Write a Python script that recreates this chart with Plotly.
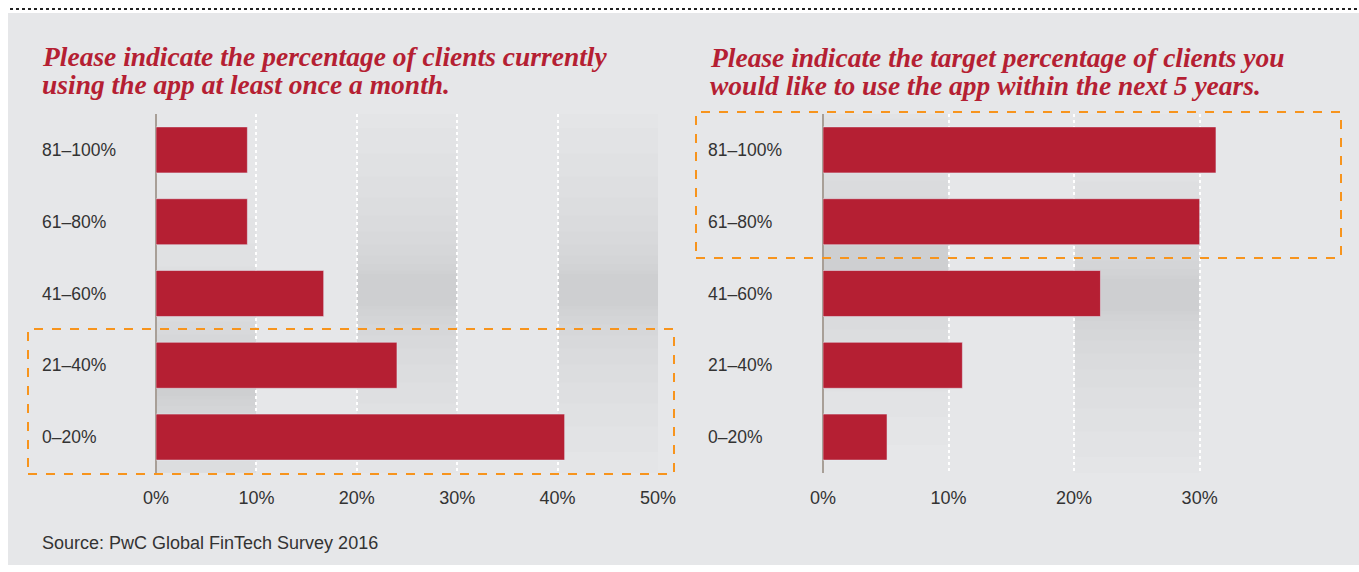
import plotly.graph_objects as go

# Données (en %)
categories = ['0–20%', '21–40%', '41–60%', '61–80%', '81–100%']
current_users = [40.7, 24.0, 16.7, 9.1, 9.1]
target_users = [5.1, 11.1, 22.1, 30.0, 31.3]
left_ticks = [0, 10, 20, 30, 40, 50]
right_ticks = [0, 10, 20, 30]

title_left = ['Please indicate the percentage of clients currently',
              'using the app at least once a month.']
title_right = ['Please indicate the target percentage of clients you',
               'would like to use the app within the next 5 years.']
source_text = 'Source: PwC Global FinTech Survey 2016'

W, H = 1359, 572
RED = '#b51f33'
ORANGE = '#f7941d'
BG = '#e6e7e9'
TXT = '#333333'
SANS = 'Liberation Sans, Arial'


def px(x):
    return x / W


def py(y):
    return 1 - y / H


fig = go.Figure()
fig.add_trace(go.Bar(y=categories, x=current_users, orientation='h', marker_color=RED,
                     xaxis='x', yaxis='y', hoverinfo='skip'))
fig.add_trace(go.Bar(y=categories, x=target_users, orientation='h', marker_color=RED,
                     xaxis='x2', yaxis='y2', hoverinfo='skip'))

ydom = [py(473), py(114)]
common_x = dict(showgrid=True, gridcolor='white', gridwidth=2, griddash='dot',
                zeroline=True, zerolinecolor='#a89f97', zerolinewidth=2,
                ticks='', ticklabelstandoff=12, tickmode='array',
                tickfont=dict(family=SANS, size=18, color=TXT),
                showline=False, fixedrange=True)
common_y = dict(domain=ydom, showticklabels=False, showgrid=False, zeroline=False,
                categoryorder='array', categoryarray=categories, fixedrange=True)

fig.update_layout(
    width=W, height=H,
    margin=dict(l=0, r=0, t=0, b=0, autoexpand=False),
    paper_bgcolor='white', plot_bgcolor='rgba(0,0,0,0)',
    showlegend=False, bargap=0.36,
    xaxis=dict(domain=[px(156), px(658)], range=[0, 50], tickvals=left_ticks,
               ticktext=[f'{v}%' for v in left_ticks], anchor='y', **common_x),
    yaxis=dict(anchor='x', **common_y),
    xaxis2=dict(domain=[px(823), px(1339)], range=[0, 41.1], tickvals=right_ticks,
                ticktext=[f'{v}%' for v in right_ticks], anchor='y2', **common_x),
    yaxis2=dict(anchor='x2', **common_y),
)

shapes = []
# fond gris + ligne pointillée en haut
shapes.append(dict(type='rect', xref='paper', yref='paper', x0=px(8), x1=1, y0=py(565), y1=py(13),
                   fillcolor=BG, line_width=0, layer='below'))
shapes.append(dict(type='line', xref='paper', yref='paper', x0=px(10), x1=1, y0=py(9), y1=py(9),
                   line=dict(color='#222222', width=2, dash='dot')))

# bandes grises diffuses : dégradé vertical par couches empilées, plus dense au centre
bands = [('x', 0, 10, 380), ('x', 20, 30, 290), ('x', 40, 50, 290),
         ('x2', 0, 10, 255), ('x2', 20, 30, 295)]
for xr, a, b, yc in bands:
    for k in range(12):
        half = 15 + 175 * ((12 - k) / 12) ** 2
        top = max(114, yc - half)
        bot = min(473, yc + half)
        shapes.append(dict(type='rect', xref=xr, yref='paper', x0=a, x1=b,
                           y0=py(bot), y1=py(top),
                           fillcolor='rgba(0,0,0,0.0068)', line_width=0, layer='below'))

# cadres orange en pointillés
shapes.append(dict(type='rect', xref='paper', yref='paper', x0=px(28), x1=px(674), y0=py(474), y1=py(329),
                   line=dict(color=ORANGE, width=2, dash='dash'), fillcolor='rgba(0,0,0,0)'))
shapes.append(dict(type='rect', xref='paper', yref='paper', x0=px(696), x1=px(1341), y0=py(258), y1=py(112),
                   line=dict(color=ORANGE, width=2, dash='dash'), fillcolor='rgba(0,0,0,0)'))
fig.update_layout(shapes=shapes)

ann = []
title_font = dict(family='Liberation Serif, Georgia, serif', size=27.5, color=RED)
for i, line in enumerate(title_left):
    ann.append(dict(xref='paper', yref='paper', x=px(40), y=py(56 + 28 * i), xanchor='left', yanchor='middle',
                    text='<b><i>' + line + '</i></b>', showarrow=False, font=title_font))
for i, line in enumerate(title_right):
    ann.append(dict(xref='paper', yref='paper', x=px(708), y=py(57 + 29 * i), xanchor='left', yanchor='middle',
                    text='<b><i>' + line + '</i></b>', showarrow=False, font=title_font))
label_font = dict(family=SANS, size=17.5, color=TXT)
for c in categories:
    ann.append(dict(xref='paper', yref='y', x=px(40), y=c, xanchor='left', yanchor='middle',
                    text=c, showarrow=False, font=label_font))
    ann.append(dict(xref='paper', yref='y2', x=px(706), y=c, xanchor='left', yanchor='middle',
                    text=c, showarrow=False, font=label_font))
ann.append(dict(xref='paper', yref='paper', x=px(40), y=py(543), xanchor='left', yanchor='middle',
                text=source_text, showarrow=False, font=dict(family=SANS, size=18, color=TXT)))
fig.update_layout(annotations=ann)

fig.write_html('out.html', config={'displayModeBar': False},
               post_script="document.body.style.margin='0';document.body.style.overflow='hidden';")
